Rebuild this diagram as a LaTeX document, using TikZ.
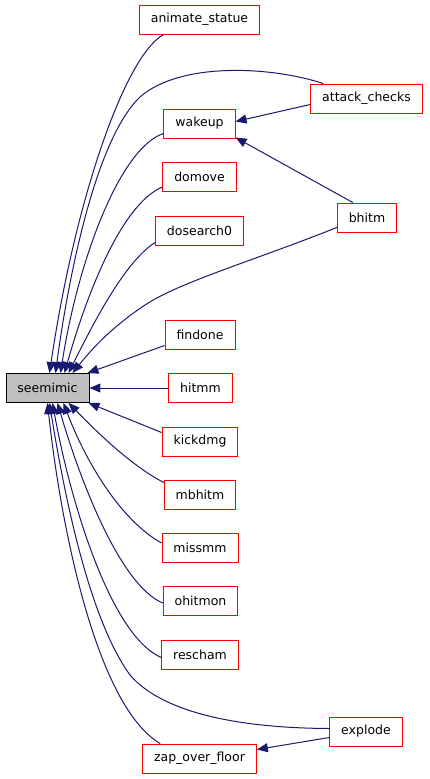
\documentclass[tikz,border=0pt]{standalone}
\usepackage{fontspec}
\setmainfont{DejaVu Sans}
\usepackage{tikz}
\usetikzlibrary{arrows.meta}
\definecolor{edgeblue}{RGB}{25, 25, 112}
\definecolor{rootgray}{RGB}{191, 191, 191}
\definecolor{boxred}{RGB}{255, 0, 0}

\tikzset{
    fnbox/.style={draw=boxred, fill=white, line width=0.9pt, minimum height=29pt, inner xsep=11.5pt, inner ysep=0pt, font=\fontsize{12.5}{14}\selectfont},
    rootbox/.style={fnbox, draw=black, fill=rootgray},
    callarrow/.style={draw=edgeblue, line width=1pt, -{Triangle[length=11pt, width=9pt]}}
}

\begin{document}
\begin{tikzpicture}[x=1pt, y=-1pt]
    \useasboundingbox (0,0) rectangle (429,779);

    % Root function
    \node[rootbox] (seemimic) at (47.5,388) {seemimic};

    % Callers
    \node[fnbox] (animate_statue) at (199.5,19.5) {animate\_statue};
    \node[fnbox] (attack_checks) at (366.5,98.5) {attack\_checks};
    \node[fnbox] (wakeup) at (199.5,123.5) {wakeup};
    \node[fnbox] (domove) at (199.5,177) {domove};
    \node[fnbox] (bhitm) at (367,217.5) {bhitm};
    \node[fnbox] (dosearch0) at (199.5,230.5) {dosearch0};
    \node[fnbox] (findone) at (200,334.5) {findone};
    \node[fnbox] (hitmm) at (200.5,388) {hitmm};
    \node[fnbox] (kickdmg) at (200,441.5) {kickdmg};
    \node[fnbox] (mbhitm) at (200,494.5) {mbhitm};
    \node[fnbox] (missmm) at (200,548) {missmm};
    \node[fnbox] (ohitmon) at (200.5,601) {ohitmon};
    \node[fnbox] (rescham) at (200,654.5) {rescham};
    \node[fnbox] (explode) at (366,731.5) {explode};
    \node[fnbox] (zap_over_floor) at (199.5,758.5) {zap\_over\_floor};

    % Calls into seemimic, upper half
    \draw[callarrow] ([xshift=25pt]animate_statue.south west) .. controls (125,55) and (75,200) .. ([xshift=2pt]seemimic.north);
    \draw[callarrow] ([xshift=13pt]attack_checks.north west) .. controls (270,66) and (180,62) .. (140,97) .. controls (95,140) and (68,280) .. ([xshift=8pt]seemimic.north);
    \draw[callarrow] ([yshift=-10pt]wakeup.west) .. controls (120,148) and (78,260) .. ([xshift=13pt]seemimic.north);
    \draw[callarrow] ([yshift=-10pt]domove.west) .. controls (120,205) and (85,300) .. ([xshift=17pt]seemimic.north);
    \draw[callarrow] ([yshift=-12pt]dosearch0.west) .. controls (125,262) and (95,320) .. ([xshift=21pt]seemimic.north);
    \draw[callarrow] ([yshift=-10pt]bhitm.west) .. controls (250,262) and (180,282) .. (145,305) .. controls (115,325) and (95,345) .. ([xshift=25pt]seemimic.north);
    \draw[callarrow] ([yshift=-11pt]findone.west) -- ([xshift=-2pt]seemimic.north east);
    \draw[callarrow] (hitmm.west) -- (seemimic.east);

    % Calls into seemimic, lower half
    \draw[callarrow] ([yshift=9pt]kickdmg.west) -- ([xshift=-1pt]seemimic.south east);
    \draw[callarrow] ([yshift=12pt]mbhitm.west) .. controls (130,465) and (95,430) .. ([xshift=21pt]seemimic.south);
    \draw[callarrow] ([yshift=5pt]missmm.west) .. controls (120,520) and (85,460) .. ([xshift=16pt]seemimic.south);
    \draw[callarrow] ([yshift=-2pt]ohitmon.west) .. controls (120,585) and (80,480) .. ([xshift=10pt]seemimic.south);
    \draw[callarrow] ([yshift=-3pt]rescham.west) .. controls (110,635) and (70,500) .. ([xshift=5pt]seemimic.south);
    \draw[callarrow] ([yshift=3pt]explode.west) .. controls (230,728) and (160,710) .. (130,675) .. controls (90,620) and (65,500) .. ([xshift=2pt]seemimic.south);
    \draw[callarrow] ([xshift=18pt]zap_over_floor.north west) .. controls (95,705) and (60,520) .. ([xshift=0pt]seemimic.south);

    % Calls between callers
    \draw[callarrow] ([yshift=-6pt]attack_checks.west) -- ([yshift=2pt]wakeup.east);
    \draw[callarrow] ([xshift=16pt]bhitm.north west) -- ([yshift=-14pt]wakeup.east);
    \draw[callarrow] ([yshift=-6pt]explode.west) -- ([yshift=9pt]zap_over_floor.east);
\end{tikzpicture}
\end{document}
